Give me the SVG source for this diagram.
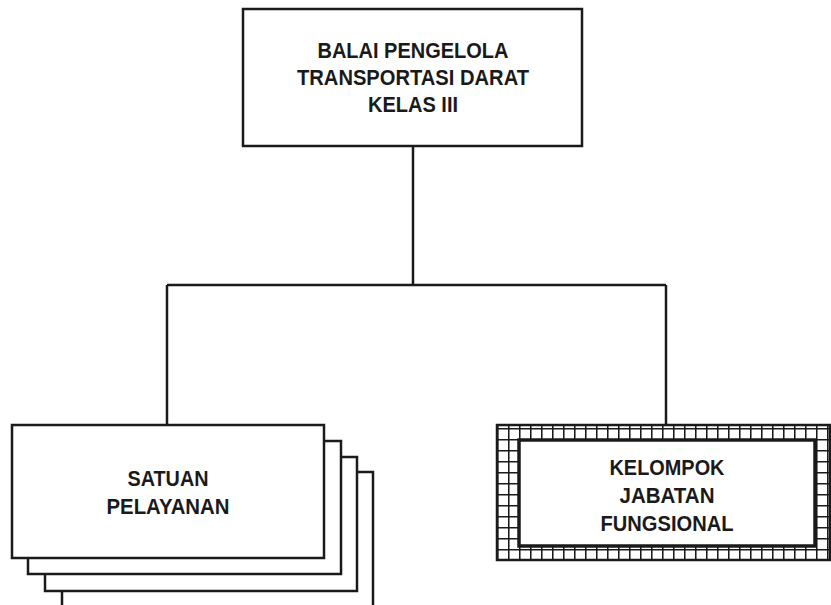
<svg xmlns="http://www.w3.org/2000/svg" width="831" height="605" viewBox="0 0 831 605">
  <style>
    .box { fill: #ffffff; stroke: #1a1a1a; stroke-width: 2.5; }
    .conn { fill: none; stroke: #1a1a1a; stroke-width: 2.5; }
    .lbl { font-family: "Liberation Sans", Arial, sans-serif; font-weight: bold; font-size: 22px; fill: #1a1a1a; text-anchor: middle; }
  </style>
  <defs>
    <pattern id="grid" x="497" y="428" width="11" height="11" patternUnits="userSpaceOnUse">
      <rect width="11" height="11" fill="#ffffff"/>
      <path d="M0 0.75 H11 M0.75 0 V11" stroke="#1a1a1a" stroke-width="1.6" fill="none"/>
    </pattern>
  </defs>
  <rect width="831" height="605" fill="#ffffff"/>

  <g id="connectors">
    <path class="conn" d="M413 146 V285"/>
    <path class="conn" d="M167 285 H666"/>
    <path class="conn" d="M167 285 V425"/>
    <path class="conn" d="M666 285 V425"/>
  </g>

  <g id="balai">
    <rect class="box" x="243" y="9" width="339" height="137"/>
    <text class="lbl" x="413" y="58" textLength="191" lengthAdjust="spacingAndGlyphs">BALAI PENGELOLA</text>
    <text class="lbl" x="413" y="85" textLength="232" lengthAdjust="spacingAndGlyphs">TRANSPORTASI DARAT</text>
    <text class="lbl" x="413" y="112" textLength="90" lengthAdjust="spacingAndGlyphs">KELAS III</text>
  </g>

  <g id="satuan">
    <rect class="box" x="62" y="472" width="311" height="140"/>
    <rect class="box" x="45" y="457" width="312" height="134"/>
    <rect class="box" x="28" y="441" width="313" height="133"/>
    <rect class="box" x="12" y="425" width="312" height="133"/>
    <text class="lbl" x="168" y="486" textLength="81" lengthAdjust="spacingAndGlyphs">SATUAN</text>
    <text class="lbl" x="168" y="514" textLength="123" lengthAdjust="spacingAndGlyphs">PELAYANAN</text>
  </g>

  <g id="kelompok">
    <rect x="497" y="425" width="333" height="135" fill="url(#grid)" stroke="#1a1a1a" stroke-width="2.5"/>
    <rect x="519" y="440" width="296" height="106" fill="#ffffff" stroke="#1a1a1a" stroke-width="3.5"/>
    <text class="lbl" x="667" y="475" textLength="115" lengthAdjust="spacingAndGlyphs">KELOMPOK</text>
    <text class="lbl" x="667" y="503" textLength="95" lengthAdjust="spacingAndGlyphs">JABATAN</text>
    <text class="lbl" x="667" y="531" textLength="133" lengthAdjust="spacingAndGlyphs">FUNGSIONAL</text>
  </g>
</svg>
